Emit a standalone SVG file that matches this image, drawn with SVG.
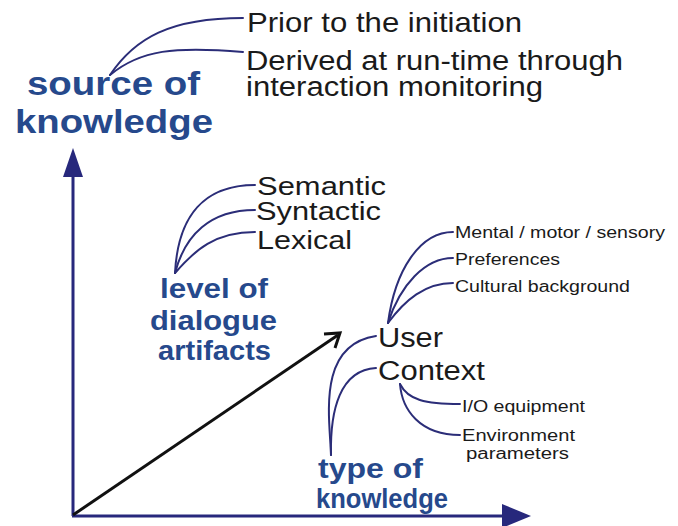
<svg xmlns="http://www.w3.org/2000/svg" width="678" height="526" viewBox="0 0 678 526">
<style>
.bg{fill:#ffffff}
.axis{stroke:#27287c;stroke-width:3;fill:none}
.head{fill:#27287c}
.cv{stroke:#2b2d78;stroke-width:2;fill:none;stroke-linecap:round}
.diag{stroke:#111;stroke-width:3;fill:none}
.lbl{font-family:"Liberation Sans",Arial,sans-serif;font-weight:bold;fill:#26498c}
.big{font-family:"Liberation Sans",Arial,sans-serif;fill:#1a1a1a}
.sm{font-family:"Liberation Sans",Arial,sans-serif;fill:#1a1a1a;font-size:16px}
</style>
<rect class="bg" x="0" y="0" width="678" height="526"/>
<g id="connectors">
  <line class="axis" x1="73" y1="516" x2="73" y2="172"/>
  <polygon class="head" points="73,148 63,177 83,177"/>
  <line class="axis" x1="72" y1="516" x2="506" y2="516"/>
  <polygon class="head" points="531,516 502,504 502,528"/>
  <line class="diag" x1="73" y1="515" x2="338" y2="335"/>
  <polyline class="diag" stroke-width="4" stroke-linejoin="miter" points="324,334 340,333 335,348"/>
  <path class="cv" d="M110,75 C135,38 170,18 243,18"/>
  <path class="cv" d="M110,75 C140,50 175,46 243,52"/>
  <path class="cv" d="M175,273 C178,215 205,185 255,185"/>
  <path class="cv" d="M175,273 C185,235 210,210 255,210"/>
  <path class="cv" d="M175,273 C195,250 215,232 255,232"/>
  <path class="cv" d="M388,323 C395,270 420,232 453,232"/>
  <path class="cv" d="M388,323 C400,285 425,258 453,258"/>
  <path class="cv" d="M388,323 C405,300 425,283 453,283"/>
  <path class="cv" d="M331,455 C330,420 316,345 376,336"/>
  <path class="cv" d="M331,455 C330,410 340,370 376,368"/>
  <path class="cv" d="M400,384 C408,400 425,404 460,404"/>
  <path class="cv" d="M400,384 C402,410 420,435 460,435"/>
</g>
<g id="source-of-knowledge">
  <text class="lbl" font-size="34" x="27" y="95" textLength="173" lengthAdjust="spacingAndGlyphs">source of</text>
  <text class="lbl" font-size="34" x="15" y="133" textLength="198" lengthAdjust="spacingAndGlyphs">knowledge</text>
</g>
<g id="prior">
  <text class="big" font-size="28" x="247" y="32" textLength="275" lengthAdjust="spacingAndGlyphs">Prior to the initiation</text>
</g>
<g id="derived">
  <text class="big" font-size="27" x="246" y="70" textLength="377" lengthAdjust="spacingAndGlyphs">Derived at run-time through</text>
  <text class="big" font-size="27" x="246" y="96" textLength="297" lengthAdjust="spacingAndGlyphs">interaction monitoring</text>
</g>
<g id="semantic">
  <text class="big" font-size="25" x="257" y="195" textLength="129" lengthAdjust="spacingAndGlyphs">Semantic</text>
</g>
<g id="syntactic">
  <text class="big" font-size="25" x="256" y="220" textLength="125" lengthAdjust="spacingAndGlyphs">Syntactic</text>
</g>
<g id="lexical">
  <text class="big" font-size="25" x="257" y="249" textLength="95" lengthAdjust="spacingAndGlyphs">Lexical</text>
</g>
<g id="level-of-dialogue-artifacts">
  <text class="lbl" font-size="27" x="160" y="298" textLength="108" lengthAdjust="spacingAndGlyphs">level of</text>
  <text class="lbl" font-size="27" x="150" y="330" textLength="127" lengthAdjust="spacingAndGlyphs">dialogue</text>
  <text class="lbl" font-size="27" x="158" y="360" textLength="113" lengthAdjust="spacingAndGlyphs">artifacts</text>
</g>
<g id="mental">
  <text class="sm" x="455" y="238" textLength="210" lengthAdjust="spacingAndGlyphs">Mental / motor / sensory</text>
</g>
<g id="preferences">
  <text class="sm" x="455" y="265" textLength="105" lengthAdjust="spacingAndGlyphs">Preferences</text>
</g>
<g id="cultural">
  <text class="sm" x="455" y="292" textLength="175" lengthAdjust="spacingAndGlyphs">Cultural background</text>
</g>
<g id="user">
  <text class="big" font-size="27" x="378" y="347" textLength="65" lengthAdjust="spacingAndGlyphs">User</text>
</g>
<g id="context">
  <text class="big" font-size="27" x="378" y="380" textLength="107" lengthAdjust="spacingAndGlyphs">Context</text>
</g>
<g id="io-equipment">
  <text class="sm" x="462" y="412" textLength="123" lengthAdjust="spacingAndGlyphs">I/O equipment</text>
</g>
<g id="environment">
  <text class="sm" x="462" y="441" textLength="113" lengthAdjust="spacingAndGlyphs">Environment</text>
  <text class="sm" x="466" y="459" textLength="103" lengthAdjust="spacingAndGlyphs">parameters</text>
</g>
<g id="type-of-knowledge">
  <text class="lbl" font-size="28" x="318" y="478" textLength="105" lengthAdjust="spacingAndGlyphs">type of</text>
  <text class="lbl" font-size="28" x="316" y="508" textLength="132" lengthAdjust="spacingAndGlyphs">knowledge</text>
</g>
</svg>
